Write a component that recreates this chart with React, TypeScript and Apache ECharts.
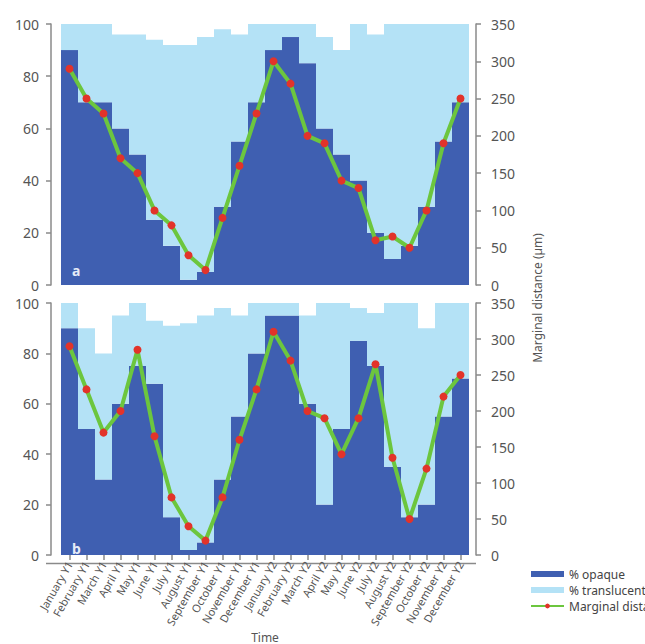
import React, { useEffect, useRef } from "react";
import * as echarts from "echarts";

const months = [
  "January Y1", "February Y1", "March Y1", "April Y1", "May Y1", "June Y1",
  "July Y1", "August Y1", "September Y1", "October Y1", "November Y1", "December Y1",
  "January Y2", "February Y2", "March Y2", "April Y2", "May Y2", "June Y2",
  "July Y2", "August Y2", "September Y2", "October Y2", "November Y2", "December Y2",
];

// Panel a
const opaqueA = [90, 70, 70, 60, 50, 25, 15, 2, 5, 30, 55, 70, 90, 95, 85, 60, 50, 40, 20, 10, 15, 30, 55, 70];
const translucentA = [10, 30, 30, 36, 46, 69, 77, 90, 90, 68, 41, 30, 10, 5, 15, 35, 40, 60, 76, 90, 85, 70, 45, 30];
const marginalA = [290, 250, 230, 170, 150, 100, 80, 40, 20, 90, 160, 230, 300, 270, 200, 190, 140, 130, 60, 65, 50, 100, 190, 250];

// Panel b
const opaqueB = [90, 50, 30, 60, 75, 68, 15, 2, 5, 30, 55, 80, 95, 95, 60, 20, 50, 85, 75, 35, 15, 20, 55, 70];
const translucentB = [10, 40, 50, 35, 25, 25, 76, 90, 90, 68, 40, 20, 5, 5, 35, 80, 50, 13, 21, 65, 85, 70, 45, 30];
const marginalB = [290, 230, 170, 200, 285, 165, 80, 40, 20, 80, 160, 230, 310, 270, 200, 190, 140, 190, 265, 135, 50, 120, 220, 250];

const leftTicks = { min: 0, max: 100, interval: 20 };
const rightTicks = { min: 0, max: 350, interval: 50 };

const DARK = "#3f5fb1";
const LIGHT = "#b4e2f6";
const GREEN = "#6cc63e";
const RED = "#e2332a";
const AXIS = "#8a8a8a";
const TEXT = "#555555";
const FONT = "Noto Sans";

export default function App() {
  const ref = useRef<HTMLDivElement>(null);
  useEffect(() => {
    if (!ref.current) return;
    const chart = echarts.init(ref.current, undefined, { renderer: "svg" });

    const yLeft = (gridIndex: number) => ({
      type: "value",
      gridIndex,
      position: "left",
      offset: 10,
      ...leftTicks,
      splitLine: { show: false },
      axisLine: { show: true, lineStyle: { color: AXIS, width: 1.5 } },
      axisTick: { show: true, length: 5, lineStyle: { color: AXIS, width: 1.5 } },
      axisLabel: { color: TEXT, fontSize: 14, fontFamily: FONT, margin: 12 },
    });
    const yRight = (gridIndex: number) => ({
      type: "value",
      gridIndex,
      position: "right",
      offset: 7,
      ...rightTicks,
      splitLine: { show: false },
      axisLine: { show: true, lineStyle: { color: AXIS, width: 1.5 } },
      axisTick: { show: true, length: 5, lineStyle: { color: AXIS, width: 1.5 } },
      axisLabel: { color: TEXT, fontSize: 14, fontFamily: FONT, margin: 15 },
    });

    const barSeries = (name: string, data: number[], color: string, idx: number) => ({
      type: "bar",
      name,
      xAxisIndex: idx,
      yAxisIndex: idx * 2,
      stack: "s" + idx,
      data,
      barCategoryGap: "0%",
      barGap: "0%",
      itemStyle: { color },
    });
    const lineSeries = (data: number[], idx: number) => ({
      type: "line",
      name: "Marginal distance",
      xAxisIndex: idx,
      yAxisIndex: idx * 2 + 1,
      data,
      symbol: "circle",
      symbolSize: 8,
      itemStyle: { color: RED },
      lineStyle: { color: GREEN, width: 4 },
      z: 5,
    });

    chart.setOption({
      animation: false,
      backgroundColor: "#ffffff",
      grid: [
        { left: 61, right: 176, top: 24, height: 261 },
        { left: 61, right: 176, top: 303, height: 260 },
      ],
      xAxis: [
        {
          type: "category",
          gridIndex: 0,
          data: months,
          axisLine: { show: false },
          axisTick: { show: false },
          axisLabel: { show: false },
        },
        {
          type: "category",
          gridIndex: 1,
          data: months,
          axisLine: { show: false },
          axisTick: { show: true, alignWithLabel: true, length: 5, lineStyle: { color: AXIS, width: 1.5 } },
          axisLabel: { rotate: 60, fontSize: 11, color: TEXT, fontFamily: FONT, margin: 7, interval: 0 },
          name: "Time",
          nameLocation: "middle",
          nameGap: 76,
          nameTextStyle: { fontSize: 12, color: TEXT, fontFamily: FONT },
        },
      ],
      yAxis: [yLeft(0), yRight(0), yLeft(1), yRight(1)],
      legend: {
        orient: "vertical",
        left: 525,
        top: 563,
        itemWidth: 33,
        itemHeight: 6,
        itemGap: 4,
        textStyle: { fontSize: 12, color: "#444", fontFamily: FONT },
        data: [
          { name: "% opaque", icon: "rect" },
          { name: "% translucent", icon: "rect" },
          { name: "Marginal distance" },
        ],
      },
      series: [
        barSeries("% opaque", opaqueA, DARK, 0),
        barSeries("% translucent", translucentA, LIGHT, 0),
        lineSeries(marginalA, 0),
        barSeries("% opaque", opaqueB, DARK, 1),
        barSeries("% translucent", translucentB, LIGHT, 1),
        lineSeries(marginalB, 1),
      ],
      graphic: [
        {
          type: "text",
          left: 72,
          top: 263,
          z: 10,
          style: { text: "a", fill: "#e6ebf7", font: `bold 14px ${FONT}` },
        },
        {
          type: "text",
          left: 72,
          top: 541,
          z: 10,
          style: { text: "b", fill: "#e6ebf7", font: `bold 14px ${FONT}` },
        },
        {
          type: "text",
          x: 537,
          y: 298,
          rotation: Math.PI / 2,
          style: {
            text: "Marginal distance (µm)",
            fill: TEXT,
            font: `12px ${FONT}`,
            align: "center",
            verticalAlign: "middle",
          },
        },
        {
          type: "line",
          shape: { x1: 46, y1: 563.5, x2: 476, y2: 563.5 },
          style: { stroke: AXIS, lineWidth: 1.5 },
        },
      ],
    });
    return () => chart.dispose();
  }, []);

  return (
    <div
      ref={ref}
      style={{ position: "fixed", left: 0, top: 0, width: 645, height: 644 }}
    />
  );
}
